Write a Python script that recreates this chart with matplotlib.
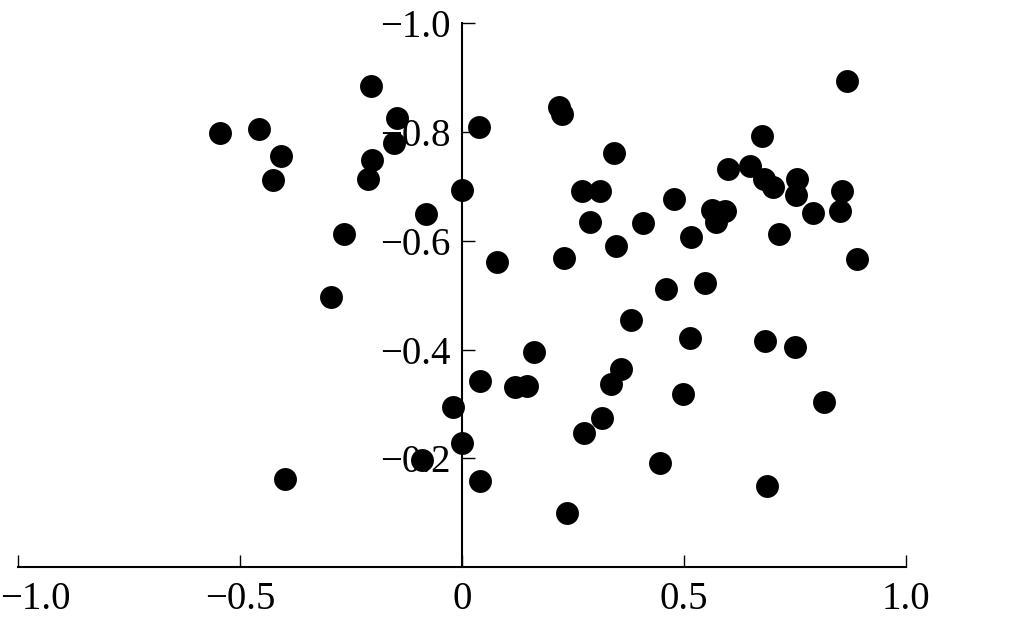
import matplotlib
matplotlib.use('Agg')
import matplotlib.pyplot as plt
import matplotlib.transforms as mtransforms
import numpy as np

plt.rcParams['font.family'] = ['Liberation Serif', 'DejaVu Serif']

# point coordinates
x_vals = [-0.545, -0.458, -0.408, -0.426, -0.204, -0.147, -0.153, -0.203, -0.212, 0.001,
          -0.082, -0.265, -0.295, 0.038, -0.399, -0.020, -0.001, -0.089, 0.040, 0.040,
          0.219, 0.225, 0.342, 0.271, 0.310, 0.288, 0.409, 0.348, 0.477, 0.517,
          0.080, 0.229, 0.460, 0.548, 0.382, 0.163, 0.120, 0.147, 0.358, 0.337,
          0.316, 0.276, 0.447, 0.236, 0.513, 0.498,
          0.868, 0.676, 0.600, 0.650, 0.681, 0.702, 0.755, 0.753, 0.791, 0.856,
          0.853, 0.563, 0.593, 0.573, 0.714, 0.890, 0.682, 0.750, 0.817, 0.687]
y_vals = [-0.798, -0.805, -0.756, -0.711, -0.884, -0.825, -0.780, -0.749, -0.713, -0.694,
          -0.650, -0.613, -0.497, -0.810, -0.162, -0.294, -0.228, -0.197, -0.342, -0.158,
          -0.846, -0.833, -0.762, -0.691, -0.691, -0.634, -0.632, -0.590, -0.677, -0.607,
          -0.561, -0.569, -0.511, -0.523, -0.454, -0.395, -0.332, -0.333, -0.364, -0.337,
          -0.275, -0.246, -0.191, -0.099, -0.422, -0.319,
          -0.893, -0.793, -0.732, -0.738, -0.714, -0.699, -0.713, -0.684, -0.652, -0.692,
          -0.655, -0.657, -0.654, -0.635, -0.612, -0.566, -0.416, -0.404, -0.304, -0.150]

x_ticks = [-1.0, -0.5, 0.0, 0.5, 1.0]
x_labels = ['\u22121.0', '\u22120.5', '0', '0.5', '1.0']
y_ticks = [-1.0, -0.8, -0.6, -0.4, -0.2]
y_labels = ['\u22121.0', '\u22120.8', '\u22120.6', '\u22120.4', '\u22120.2']

fig = plt.figure(figsize=(10.1, 6.24), dpi=100)
ax = fig.add_axes([0.0181, 0.091, 0.8786, 0.8717])

ax.plot(x_vals, y_vals, 'o', color='black', markersize=16.5, markeredgewidth=0,
        zorder=3, clip_on=False)

ax.set_xlim(-1.0, 1.0)
ax.set_ylim(0.0, -1.0)

ax.spines['top'].set_visible(False)
ax.spines['right'].set_visible(False)
ax.spines['left'].set_position(('data', 0))
ax.spines['left'].set_linewidth(1.5)
ax.spines['bottom'].set_linewidth(1.5)

ax.set_xticks(x_ticks)
ax.set_xticklabels(x_labels)
ax.set_yticks(y_ticks)
ax.set_yticklabels(y_labels)
ax.tick_params(axis='both', direction='in', length=9, width=1.0, labelsize=28, color='black')
ax.tick_params(axis='x', pad=10)
ax.tick_params(axis='y', pad=8)

# first x label sits inside the figure edge, as in the original
first = ax.get_xticklabels()[0]
first.set_horizontalalignment('left')
first.set_transform(first.get_transform() +
                    mtransforms.ScaledTranslation(-0.18, 0, fig.dpi_scale_trans))

fig.savefig('out.png', dpi=100)
